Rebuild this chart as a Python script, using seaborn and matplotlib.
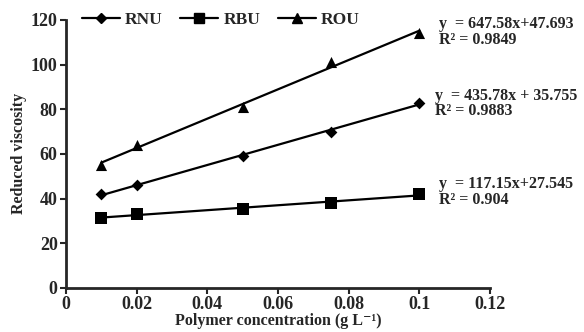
import matplotlib
matplotlib.use("Agg")
import matplotlib.pyplot as plt
import numpy as np
import pandas as pd
import seaborn as sns

# Data
conc = [0.01, 0.02, 0.05, 0.075, 0.1]
rnu = [42, 46, 59, 70, 83]
rbu = [31.5, 33, 35.5, 38, 42]
rou = [55, 64, 81, 101, 114]

series = ["RNU", "RBU", "ROU"]
eq_labels = {"ROU": "y  = 647.58x+47.693\nR² = 0.9849",
             "RNU": "y  = 435.78x + 35.755\nR² = 0.9883",
             "RBU": "y  = 117.15x+27.545\nR² = 0.904"}

df = pd.DataFrame({"conc": conc * 3,
                   "visc": rnu + rbu + rou,
                   "series": ["RNU"] * 5 + ["RBU"] * 5 + ["ROU"] * 5})

sns.set_style("ticks")
plt.rcParams["font.family"] = ["Liberation Serif", "DejaVu Serif"]
plt.rcParams["font.weight"] = "bold"

fig = plt.figure(figsize=(5.84, 3.32), dpi=100)
ax = fig.add_axes([0.113, 0.133, 0.726, 0.807])

markers = {"RNU": "D", "RBU": "s", "ROU": "^"}
msize = {"RNU": 6, "RBU": 8, "ROU": 8}

handles = []
for s in series:
    sub = df[df["series"] == s]
    # linear trend line fitted to the points
    k, b = np.polyfit(sub["conc"], sub["visc"], 1)
    ax.plot(sub["conc"], k * sub["conc"] + b, color="black", lw=1.6, zorder=2)
    sns.scatterplot(x=sub["conc"], y=sub["visc"], ax=ax, color="black",
                    marker=markers[s], s=msize[s] ** 2, edgecolor="black",
                    linewidth=0, zorder=3, legend=False)
    h, = ax.plot([], [], color="black", lw=1.6, marker=markers[s],
                 markersize=msize[s] - 1, label=s)
    handles.append(h)

tkw = dict(fontsize=11.5, va="center", fontweight="bold", linespacing=0.95)
ax.text(0.1055, 114.5, eq_labels["ROU"], **tkw)
ax.text(0.1045, 82.5, eq_labels["RNU"], **tkw)
ax.text(0.1055, 43, eq_labels["RBU"], **tkw)

ax.set_xlim(0, 0.12)
ax.set_ylim(0, 120)
ax.set_xticks([0, 0.02, 0.04, 0.06, 0.08, 0.1, 0.12])
ax.set_xticklabels(["0", "0.02", "0.04", "0.06", "0.08", "0.1", "0.12"])
ax.set_yticks([0, 20, 40, 60, 80, 100, 120])
ax.tick_params(labelsize=13, width=1.5, length=4, direction="out", pad=2)
for sp in ["left", "bottom"]:
    ax.spines[sp].set_linewidth(2)
sns.despine(ax=ax)

ax.set_xlabel("Polymer concentration (g L⁻¹)", fontsize=11.5, fontweight="bold", labelpad=0)
ax.set_ylabel("Reduced viscosity", fontsize=11.5, fontweight="bold", labelpad=3)

ax.legend(handles=handles, loc="center left", bbox_to_anchor=(0.0, 1.0),
          ncol=3, frameon=False, fontsize=12.5, handlelength=2.2,
          columnspacing=1.0, handletextpad=0.3)

fig.savefig("out.png", dpi=100)
